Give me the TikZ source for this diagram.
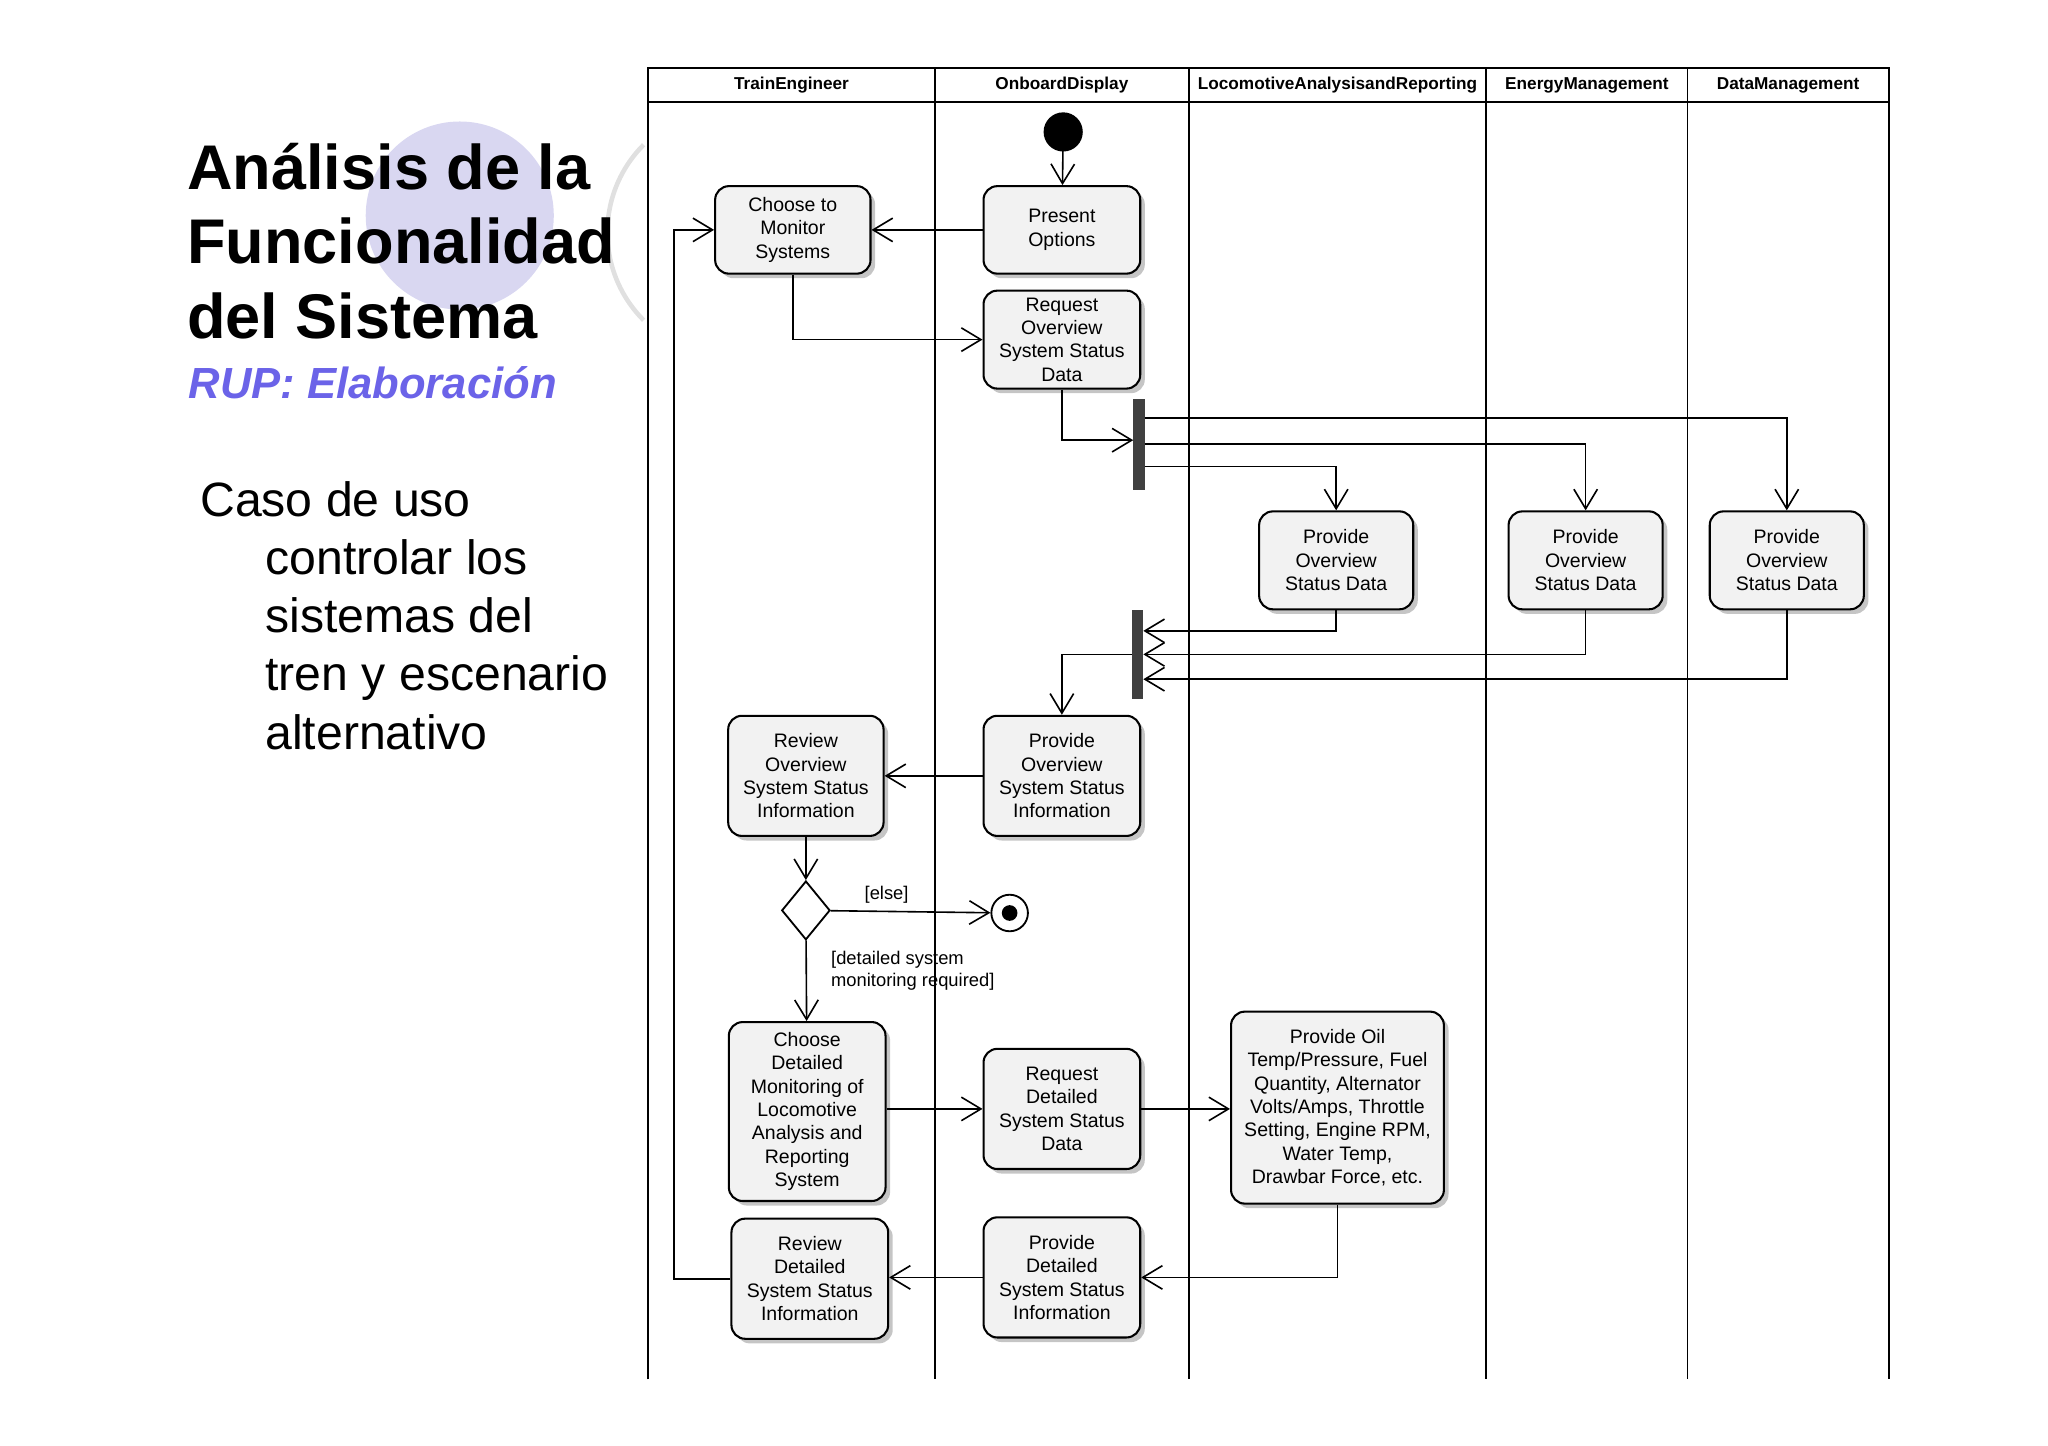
\documentclass[tikz,border=0pt]{standalone}
\usepackage{fontspec}
\setmainfont{Liberation Sans}
\usetikzlibrary{arrows.meta,shadows,shapes.geometric}
\definecolor{boxfill}{HTML}{F2F2F2}
\definecolor{lav}{HTML}{D9D7F1}
\definecolor{rupblue}{HTML}{6B63E8}
\tikzset{
 act/.style={draw,rounded corners=6pt,fill=boxfill,line width=0.9pt,align=center,font=\fontsize{8.5}{10.2}\selectfont,
   drop shadow={shadow xshift=2pt,shadow yshift=-2pt,fill=black!45},inner sep=2pt},
 arr/.style={-{Straight Barb[length=3mm,width=3.6mm]},line width=0.7pt},
 lane/.style={line width=0.8pt},
 hdr/.style={font=\bfseries\fontsize{7.5}{9}\selectfont},
 bar/.style={fill=black!75,draw=black!75}
}
\begin{document}
\begin{tikzpicture}[x=0.02cm,y=-0.02cm]
\useasboundingbox (0,0) rectangle (1568,1107);
% decoration
\fill[lav] (352,165) circle (72);
\draw[black!12,line width=2pt] (560,178) ++(135:95) arc[start angle=135,end angle=225,radius=95];
\node[anchor=north west,align=left,font=\bfseries\fontsize{27.5}{32.5}\selectfont,inner sep=0] (title) at (143,109) {Análisis de la\\Funcionalidad\\del Sistema};
\node[anchor=north west,font=\bfseries\itshape\fontsize{19}{22}\selectfont,text=rupblue,inner sep=0] (rup) at (144,280) {RUP: Elaboración};
\node[anchor=north west,align=left,font=\fontsize{21}{25.4}\selectfont,inner sep=0] (caso) at (153,368) {Caso de uso\\\hspace{1.35em}controlar los\\\hspace{1.35em}sistemas del\\\hspace{1.35em}tren y escenario\\\hspace{1.35em}alternativo};
% lanes
\draw[lane] (496,1056) -- (496,52) -- (1446,52) -- (1446,1056);
\draw[lane] (496,78) -- (1446,78);
\foreach \x in {716,910,1138,1292} \draw[lane] (\x,52) -- (\x,1056);
\node[hdr] (h1) at (606,65) {TrainEngineer};
\node[hdr] (h2) at (813,65) {OnboardDisplay};
\node[hdr] (h3) at (1024,65) {LocomotiveAnalysisandReporting};
\node[hdr] (h4) at (1215,65) {EnergyManagement};
\node[hdr] (h5) at (1369,65) {DataManagement};
% nodes
\fill (814,101) circle (15) coordinate (start);
\node[act,minimum width=2.38cm,minimum height=1.34cm] (choose) at (607,176) {Choose to\\Monitor\\Systems};
\node[act,minimum width=2.4cm,minimum height=1.34cm] (present) at (813,176) {Present\\Options};
\node[act,minimum width=2.4cm,minimum height=1.5cm] (reqov) at (813,260) {Request\\Overview\\System Status\\Data};
\node[bar,minimum width=0.16cm,minimum height=1.38cm,inner sep=0] (fork) at (872,340) {};
\node[act,minimum width=2.36cm,minimum height=1.5cm] (po1) at (1023,429) {Provide\\Overview\\Status Data};
\node[act,minimum width=2.36cm,minimum height=1.5cm] (po2) at (1214,429) {Provide\\Overview\\Status Data};
\node[act,minimum width=2.36cm,minimum height=1.5cm] (po3) at (1368,429) {Provide\\Overview\\Status Data};
\node[bar,minimum width=0.16cm,minimum height=1.34cm,inner sep=0] (join) at (871,501) {};
\node[act,minimum width=2.4cm,minimum height=1.84cm] (possi) at (813,594) {Provide\\Overview\\System Status\\Information};
\node[act,minimum width=2.38cm,minimum height=1.84cm] (review) at (617,594) {Review\\Overview\\System Status\\Information};
\node[draw,diamond,line width=0.8pt,fill=white,minimum width=0.74cm,minimum height=0.9cm,inner sep=0] (dec) at (617,697) {};
\node[draw,circle,line width=0.8pt,minimum size=0.56cm,inner sep=0] (final) at (773,699) {};
\fill (773,699) circle (6);
\node[act,minimum width=2.4cm,minimum height=2.74cm] (chdet) at (618,851) {Choose\\Detailed\\Monitoring of\\Locomotive\\Analysis and\\Reporting\\System};
\node[act,minimum width=2.4cm,minimum height=1.84cm] (reqdet) at (813,849) {Request\\Detailed\\System Status\\Data};
\node[act,minimum width=3.26cm,minimum height=2.94cm] (oil) at (1024,848) {Provide Oil\\Temp/Pressure, Fuel\\Quantity, Alternator\\Volts/Amps, Throttle\\Setting, Engine RPM,\\Water Temp,\\Drawbar Force, etc.};
\node[act,minimum width=2.4cm,minimum height=1.84cm] (revdet) at (620,979) {Review\\Detailed\\System Status\\Information};
\node[act,minimum width=2.4cm,minimum height=1.84cm] (provdet) at (813,978) {Provide\\Detailed\\System Status\\Information};
% edges
\draw[arr] (start) -- (present);
\draw[arr] (present) -- (choose);
\draw[arr] (choose.south) |- (reqov.west);
\draw[arr] (reqov.south) |- (fork.west|-0,337);
\draw[arr] (fork.east|-0,320) -| (po3.north);
\draw[arr] (fork.east|-0,340) -| (po2.north);
\draw[arr] (fork.east|-0,357) -| (po1.north);
\draw[arr] (po1.south) |- (join.east|-0,483);
\draw[arr] (po2.south) |- (join.east|-0,501);
\draw[arr] (po3.south) |- (join.east|-0,520);
\draw[arr] (join.west) -| (possi.north);
\draw[arr] (possi) -- (review);
\draw[arr] (review) -- (dec);
\draw[arr] (dec) -- node[above,pos=0.35,font=\fontsize{8}{9}\selectfont]{[else]} (final);
\draw[arr] (dec) -- (chdet);
\node[anchor=north west,align=left,font=\fontsize{8}{9.5}\selectfont,inner sep=0] (lbl) at (636,728) {[detailed system\\monitoring required]};
\draw[arr] (chdet.east|-reqdet) -- (reqdet);
\draw[arr] (reqdet) -- (oil.west|-reqdet);
\draw[arr] (oil.south) |- (provdet.east);
\draw[arr] (provdet) -- (revdet.east|-provdet);
\draw[arr] (revdet.west) -| (516,176) -- (choose.west);
\end{tikzpicture}
\end{document}
